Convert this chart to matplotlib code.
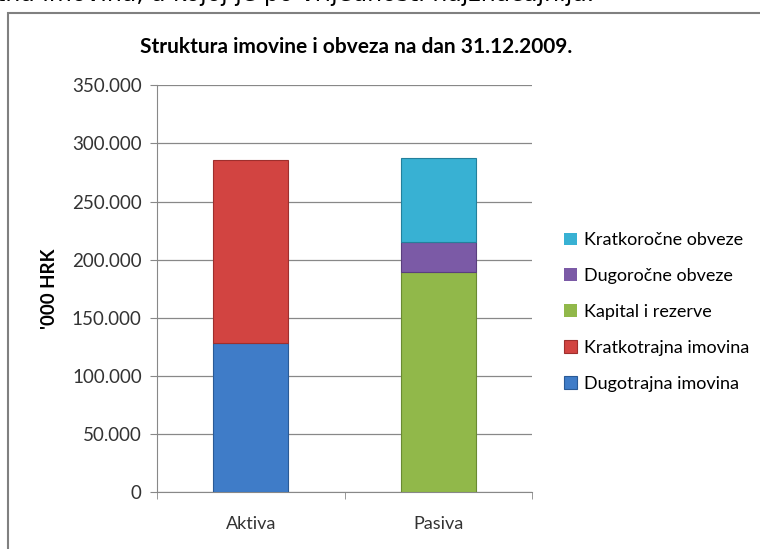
import matplotlib.pyplot as plt
from matplotlib.patches import Rectangle
from matplotlib.ticker import FuncFormatter, FixedLocator

# data, '000 HRK
categories = ["Aktiva", "Pasiva"]
series_names = ["Dugotrajna imovina", "Kratkotrajna imovina", "Kapital i rezerve",
                "Dugoročne obveze", "Kratkoročne obveze"]
dugotrajna = [128600, 0]
kratkotrajna = [157100, 0]
kapital = [0, 189700]
dugorocne = [0, 25800]
kratkorocne = [0, 71700]
colors = ["#3F7CC8", "#D24441", "#91B84A", "#7B5AA6", "#38B1D3"]
edges = ["#2A5A96", "#9E2F2D", "#6A8A32", "#5A3F7E", "#23809C"]

plt.rcParams['font.family'] = ['Lato', 'DejaVu Sans']

fig = plt.figure(figsize=(7.6, 5.49), dpi=100)
ax = fig.add_axes([157 / 760, 56.7 / 549, 375 / 760, 407 / 549])

x = range(len(categories))
bottom = [0, 0]
handles = []
for vals, name, c, e in zip([dugotrajna, kratkotrajna, kapital, dugorocne, kratkorocne],
                            series_names, colors, edges):
    lw = [0.8 if v else 0 for v in vals]
    b = ax.bar(x, vals, width=0.4, bottom=bottom, color=c, edgecolor=e,
               linewidth=lw, label=name, zorder=3)
    handles.append(b)
    bottom = [bb + v for bb, v in zip(bottom, vals)]

ax.set_xlim(-0.5, 1.5)
ax.set_ylim(0, 350000)
ax.set_yticks(range(0, 350001, 50000))
ax.yaxis.set_major_formatter(FuncFormatter(lambda v, p: f"{int(v):,}".replace(",", ".")))
ax.set_xticks(list(x))
ax.set_xticklabels(categories)
ax.xaxis.set_minor_locator(FixedLocator([-0.5, 0.5, 1.5]))
ax.tick_params(axis='x', which='major', length=0, labelsize=13, pad=17, colors='#333333')
ax.tick_params(axis='x', which='minor', length=5, color='#888888')
ax.tick_params(axis='y', length=5, color='#888888', labelsize=13.5, labelcolor='#333333', pad=6)
ax.grid(axis='y', color='#888888', linewidth=0.9, zorder=0)
for s in ['top', 'right']:
    ax.spines[s].set_visible(False)
for s in ['left', 'bottom']:
    ax.spines[s].set_color('#888888')

ax.set_ylabel("'000 HRK", fontsize=13.5, fontweight='bold', labelpad=10)

leg = fig.legend(handles[::-1], series_names[::-1], loc='center left',
                 bbox_to_anchor=(548 / 760, 1 - 312 / 549), frameon=False,
                 fontsize=13, handlelength=0.7, handleheight=0.7, labelspacing=1.1,
                 handletextpad=0.4)

fig.text(356 / 760, 1 - 47 / 549, "Struktura imovine i obveza na dan 31.12.2009.",
         ha='center', va='center', fontsize=15, fontweight='bold')

# cut-off line of text above the chart
fig.text(-0.005, 1.012, "tna imovina, a kojoj je po vrijednosti najznačajnija.",
         ha='left', va='center', fontsize=17, family='DejaVu Sans')

# chart frame
fig.add_artist(Rectangle((8 / 760, -0.1), 2, 1 - 13 / 549 + 0.1, transform=fig.transFigure,
                         fill=False, edgecolor='#808080', linewidth=1.5, clip_on=False))

fig.savefig("out.png", dpi=100)
